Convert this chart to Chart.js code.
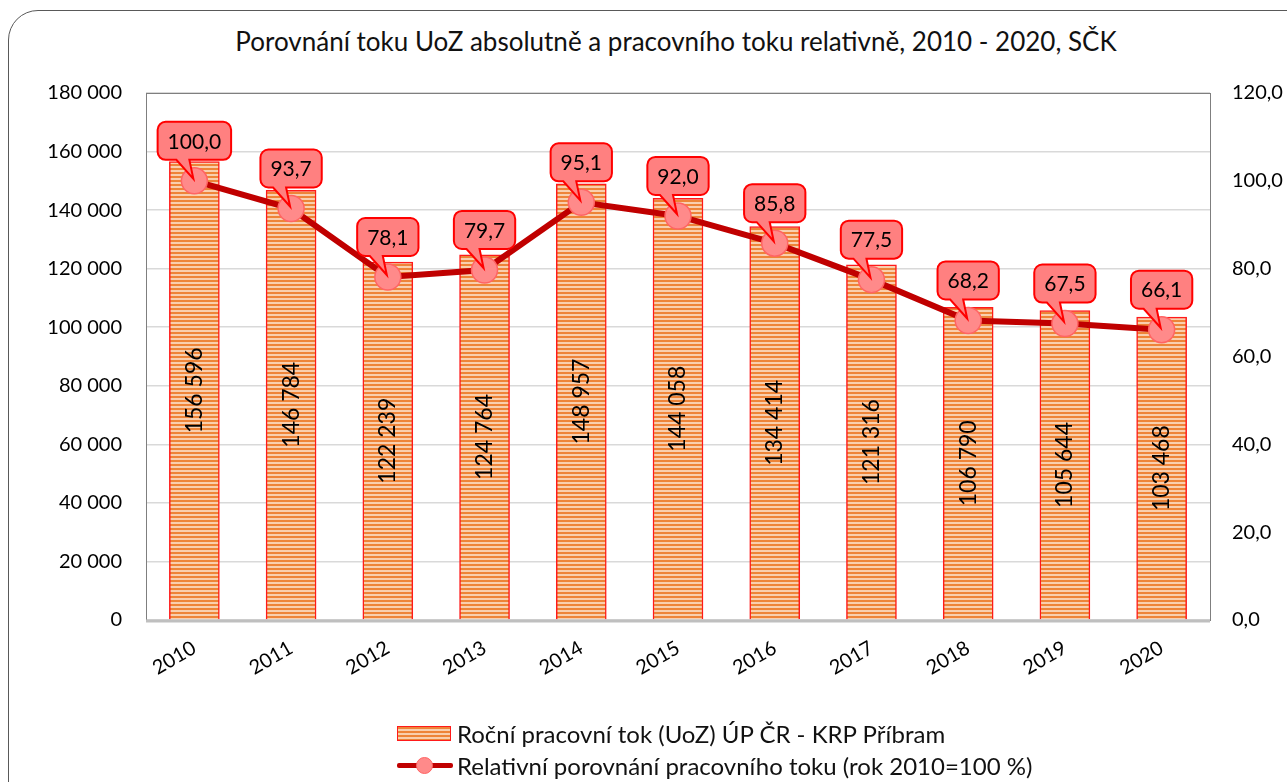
<!DOCTYPE html>
<html>
<head>
<meta charset="utf-8">
<script src="https://cdn.jsdelivr.net/npm/chart.js@4/dist/chart.umd.min.js"></script>
<style>
  body { margin: 0; background: #fff; font-family: Lato, "Open Sans", sans-serif; overflow: hidden; }
  #wrap { position: relative; width: 1287px; height: 782px; overflow: hidden; }
  #frame { position: absolute; left: 8px; top: 10px; width: 1320px; height: 820px;
           border: 1.5px solid #595959; border-radius: 30px; }
  #title { position: absolute; left: 0; width: 1352px; top: 25px; text-align: center;
           font-size: 26px; color: #111; }
  canvas { position: absolute; left: 0; top: 0; }
  #legend { position: absolute; left: 397px; top: 717px; font-size: 24px; color: #111; }
  .row { display: flex; align-items: center; height: 32px; }
  .box { width: 52px; height: 13px; margin-right: 6px; border: 1.5px solid #ff1a1a;
         background: repeating-linear-gradient(to bottom, #ee8438 0 2px, #f9cfae 2px 4px); }
  .ln { position: relative; width: 56px; height: 20px; margin-right: 4px; }
  .ln:before { content: ""; position: absolute; left: 0; right: 0; top: 8px; height: 5px;
               background: #c00000; border-radius: 2px; }
  .ln:after { content: ""; position: absolute; left: 19px; top: 2px; width: 15px; height: 15px;
              border-radius: 50%; background: #ff8a8a; border: 1.5px solid #ff6464; }
</style>
</head>
<body>
<div id="wrap">
  <div id="frame"></div>
  <div id="title">Porovnání toku UoZ absolutně a pracovního toku relativně, 2010 - 2020, SČK</div>
  <canvas id="chart" width="1287" height="782"></canvas>
  <div id="legend">
    <div class="row"><span class="box"></span>Roční pracovní tok (UoZ) ÚP ČR - KRP Příbram</div>
    <div class="row"><span class="ln"></span>Relativní porovnání pracovního toku (rok 2010=100 %)</div>
  </div>
</div>
<script>
const years = ["2010", "2011", "2012", "2013", "2014", "2015", "2016", "2017", "2018", "2019", "2020"];
const flowUoZ = [156596, 146784, 122239, 124764, 148957, 144058, 134414, 121316, 106790, 105644, 103468];
const relFlow = [100.0, 93.7, 78.1, 79.7, 95.1, 92.0, 85.8, 77.5, 68.2, 67.5, 66.1];
const leftTicks = [0, 20000, 40000, 60000, 80000, 100000, 120000, 140000, 160000, 180000];
const rightTicks = [0, 20, 40, 60, 80, 100, 120];

const FONT = "Lato, 'Open Sans', sans-serif";

function spaced(n) {
  return String(Math.round(n)).replace(/\B(?=(\d{3})+(?!\d))/g, " ");
}
function comma(n) {
  return n.toFixed(1).replace(".", ",");
}

// striped orange fill for the bars
const pc = document.createElement("canvas");
pc.width = 4; pc.height = 4;
const pctx = pc.getContext("2d");
pctx.fillStyle = "#ee8438"; pctx.fillRect(0, 0, 4, 2);
pctx.fillStyle = "#f9cfae"; pctx.fillRect(0, 2, 4, 2);
const ctx = document.getElementById("chart").getContext("2d");
const stripes = ctx.createPattern(pc, "repeat");

const decor = {
  id: "decor",
  beforeDatasetsDraw(chart) {
    const a = chart.chartArea, c = chart.ctx;
    c.save();
    c.strokeStyle = "#7f7f7f";
    c.lineWidth = 1;
    c.strokeRect(a.left + 0.5, a.top + 0.5, a.right - a.left, a.bottom - a.top);
    c.strokeStyle = "#bfbfbf";
    c.lineWidth = 3;
    c.beginPath();
    c.moveTo(a.left, a.bottom + 1);
    c.lineTo(a.right, a.bottom + 1);
    c.stroke();
    c.restore();
  },
  afterDatasetsDraw(chart) {
    const c = chart.ctx;
    c.save();
    // values inside bars
    const bars = chart.getDatasetMeta(0).data;
    c.fillStyle = "#000";
    c.font = "23px " + FONT;
    c.textAlign = "center";
    c.textBaseline = "middle";
    bars.forEach((b, i) => {
      c.save();
      c.translate(b.x, (b.y + b.base) / 2);
      c.rotate(-Math.PI / 2);
      c.fillText(spaced(flowUoZ[i]), 0, 0);
      c.restore();
    });
    // callouts for the line
    const pts = chart.getDatasetMeta(1).data;
    c.font = "21px " + FONT;
    pts.forEach((p, i) => {
      const txt = comma(relFlow[i]);
      const w = c.measureText(txt).width + 20, h = 38, r = 8;
      const cx = p.x, y1 = p.y - 21, y0 = y1 - h;
      const x0 = cx - w / 2, x1 = cx + w / 2;
      c.beginPath();
      c.moveTo(x0 + r, y0);
      c.lineTo(x1 - r, y0);
      c.arcTo(x1, y0, x1, y0 + r, r);
      c.lineTo(x1, y1 - r);
      c.arcTo(x1, y1, x1 - r, y1, r);
      c.lineTo(cx - 5, y1);
      c.lineTo(p.x - 1, p.y - 2);
      c.lineTo(cx - 18, y1);
      c.lineTo(x0 + r, y1);
      c.arcTo(x0, y1, x0, y1 - r, r);
      c.lineTo(x0, y0 + r);
      c.arcTo(x0, y0, x0 + r, y0, r);
      c.closePath();
      c.fillStyle = "#ff8080";
      c.fill();
      c.strokeStyle = "#ff0000";
      c.lineWidth = 2;
      c.stroke();
      c.fillStyle = "#000";
      c.fillText(txt, cx, (y0 + y1) / 2 + 1);
    });
    c.restore();
  }
};

new Chart(ctx, {
  type: "bar",
  data: {
    labels: years,
    datasets: [
      {
        type: "bar",
        label: "Roční pracovní tok (UoZ) ÚP ČR - KRP Příbram",
        data: flowUoZ,
        yAxisID: "y",
        backgroundColor: stripes,
        borderColor: "#ff1a1a",
        borderWidth: 1.5,
        barThickness: 50,
        order: 1
      },
      {
        type: "line",
        label: "Relativní porovnání pracovního toku (rok 2010=100 %)",
        data: relFlow,
        yAxisID: "y1",
        borderColor: "#c00000",
        borderWidth: 6,
        pointRadius: 13,
        pointBackgroundColor: "#ff8a8a",
        pointBorderColor: "#ff6464",
        pointBorderWidth: 1.5,
        tension: 0,
        order: 0
      }
    ]
  },
  options: {
    responsive: false,
    animation: false,
    layout: { padding: { top: 93, left: 0, right: 0, bottom: 0 } },
    plugins: {
      legend: { display: false },
      tooltip: { enabled: false }
    },
    scales: {
      x: {
        offset: true,
        grid: { display: false, drawTicks: false },
        border: { display: false },
        ticks: {
          color: "#000",
          font: { family: FONT, size: 20 },
          minRotation: 30,
          maxRotation: 30,
          padding: 16
        },
        afterFit(s) { s.height = 162; }
      },
      y: {
        position: "left",
        min: 0,
        max: 180000,
        afterBuildTicks(s) { s.ticks = leftTicks.map(v => ({ value: v })); },
        grid: { color: "#d9d9d9", lineWidth: 1.5, drawTicks: false },
        border: { display: false },
        ticks: {
          color: "#000",
          font: { family: FONT, size: 20 },
          padding: 24,
          callback: v => spaced(v)
        },
        afterFit(s) { s.width = 146; }
      },
      y1: {
        position: "right",
        min: 0,
        max: 120,
        afterBuildTicks(s) { s.ticks = rightTicks.map(v => ({ value: v })); },
        grid: { display: false, drawTicks: false },
        border: { display: false },
        ticks: {
          color: "#000",
          font: { family: FONT, size: 20 },
          padding: 22,
          callback: v => comma(v)
        },
        afterFit(s) { s.width = 77; }
      }
    }
  },
  plugins: [decor]
});
</script>
</body>
</html>
